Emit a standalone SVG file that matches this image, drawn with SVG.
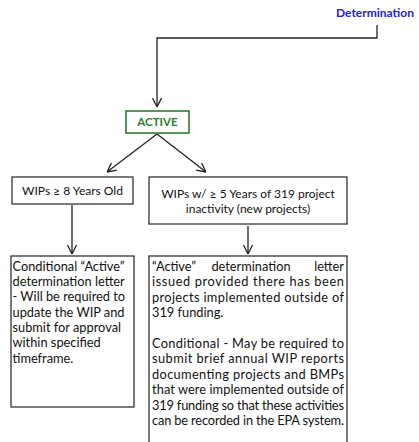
<svg xmlns="http://www.w3.org/2000/svg" width="419" height="442" viewBox="0 0 419 442">
<defs>
<style>
.t{font-family:Lato,"Liberation Sans",Arial,sans-serif;font-size:12px;fill:#111}
.b{font-family:Lato,"Liberation Sans",Arial,sans-serif;font-size:12.8px;fill:#111}
.box{fill:#fff;stroke:#222;stroke-width:1.2}
.ln{fill:none;stroke:#222;stroke-width:1.3}
</style>
<marker id="ah" viewBox="0 0 10 10" refX="10" refY="5" markerWidth="10" markerHeight="10" markerUnits="userSpaceOnUse" orient="auto">
<path d="M1,0.5 L10,5 L1,9.5" fill="none" stroke="#222" stroke-width="1.3"/>
</marker>
</defs>
<rect width="419" height="442" fill="#fff"/>
<g id="determination">
<text x="414" y="17" text-anchor="end" style="font-family:Lato,'Liberation Sans',Arial,sans-serif;font-size:12px;font-weight:bold;fill:#2323d2">Determination</text>
</g>
<g id="connectors">
<path class="ln" d="M377,25 V38 H157 V107" marker-end="url(#ah)"/>
<path class="ln" d="M157,134 L107,172" marker-end="url(#ah)"/>
<path class="ln" d="M157,134 L206,172" marker-end="url(#ah)"/>
<path class="ln" d="M72,205 V254" marker-end="url(#ah)"/>
<path class="ln" d="M248,226 V254" marker-end="url(#ah)"/>
</g>
<g id="active">
<rect x="126" y="111" width="63" height="22" fill="#fff" stroke="#2e7d32" stroke-width="1.6"/>
<text x="157.5" y="126" text-anchor="middle" style="font-family:Lato,'Liberation Sans',Arial,sans-serif;font-size:11.5px;font-weight:bold;fill:#2e7d32">ACTIVE</text>
</g>
<g id="wips8">
<rect class="box" x="12" y="177" width="121" height="27"/>
<text class="t" x="72.5" y="195" text-anchor="middle">WIPs ≥ 8 Years Old</text>
</g>
<g id="wips5">
<rect class="box" x="149" y="177" width="198" height="47"/>
<text class="t" x="248" y="198" text-anchor="middle">WIPs w/ ≥ 5 Years of 319 project</text>
<text class="t" x="248" y="213" text-anchor="middle">inactivity (new projects)</text>
</g>
<g id="conditional">
<rect class="box" x="11" y="256" width="123" height="151"/>
<text class="b" x="12.5" y="271">Conditional “Active”</text>
<text class="b" x="12.5" y="286">determination letter</text>
<text class="b" x="12.5" y="301">- Will be required to</text>
<text class="b" x="12.5" y="317">update the WIP and</text>
<text class="b" x="12.5" y="332">submit for approval</text>
<text class="b" x="12.5" y="347">within specified</text>
<text class="b" x="12.5" y="363">timeframe.</text>
</g>
<g id="activeletter">
<rect class="box" x="149" y="256" width="198" height="190"/>
<text class="b" x="152" y="271">“Active”</text>
<text class="b" x="251" y="271" text-anchor="middle">determination</text>
<text class="b" x="344" y="271" text-anchor="end">letter</text>
<text class="b" x="152" y="286" textLength="192" lengthAdjust="spacing">issued provided there has been</text>
<text class="b" x="152" y="302" textLength="192" lengthAdjust="spacing">projects implemented outside of</text>
<text class="b" x="152" y="317">319 funding.</text>
<text class="b" x="152" y="348" textLength="192" lengthAdjust="spacing">Conditional - May be required to</text>
<text class="b" x="152" y="363" textLength="192" lengthAdjust="spacing">submit brief annual WIP reports</text>
<text class="b" x="152" y="379" textLength="192" lengthAdjust="spacing">documenting projects and BMPs</text>
<text class="b" x="152" y="394" textLength="192" lengthAdjust="spacing">that were implemented outside of</text>
<text class="b" x="152" y="410" textLength="192" lengthAdjust="spacing">319 funding so that these activities</text>
<text class="b" x="152" y="425" textLength="192" lengthAdjust="spacing">can be recorded in the EPA system.</text>
</g>
</svg>
